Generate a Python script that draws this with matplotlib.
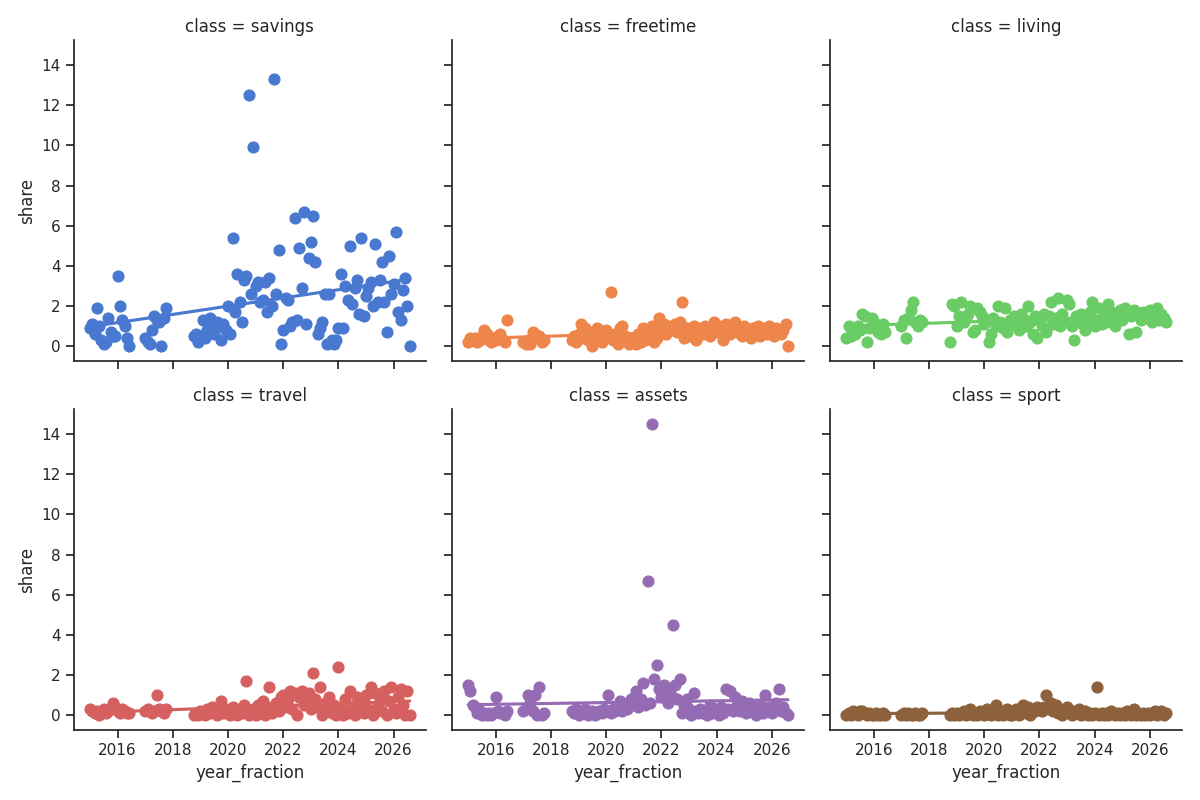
import matplotlib
matplotlib.use("Agg")
import matplotlib.pyplot as plt
import pandas as pd
import seaborn as sns

# monthly time axis with two gaps (mid 2016 - 2017, late 2017 - late 2018)
months_a = [2015 + m / 12 for m in range(18)]
months_b = [2017 + m / 12 for m in range(10)]
months_c = [2018.75 + m / 12 for m in range(95)]
year_fraction = months_a + months_b + months_c

classes = ["savings", "freetime", "living", "travel", "assets", "sport"]

savings = [
    0.9, 1.1, 0.6, 1.9, 1.0, 0.3, 0.1, 0.2, 1.4, 0.7, 0.5, 0.5, 3.5, 2.0, 1.3, 1.0, 0.4, 0.0,
    0.4, 0.2, 0.1, 0.8, 1.5, 1.3, 1.2, 0.0, 1.4, 1.9,
    0.5, 0.6, 0.2, 0.5, 1.3, 0.4, 0.8, 1.4, 0.9, 0.6, 1.2, 1.0, 0.3, 1.1, 0.8,
    2.0, 0.6, 5.4, 1.7, 3.6, 2.2, 1.2, 3.3, 3.5, 12.5, 2.6, 9.9,
    3.0, 3.2, 2.2, 2.3, 3.2, 1.7, 3.4, 2.0, 13.3, 2.6, 4.8, 0.1,
    0.8, 2.4, 2.3, 1.0, 1.2, 6.4, 1.3, 4.9, 2.9, 6.7, 1.1, 4.4,
    5.2, 6.5, 4.2, 0.6, 0.9, 1.2, 2.6, 0.1, 2.6, 0.3, 0.1, 0.3,
    0.9, 3.6, 0.9, 3.0, 2.3, 5.0, 2.1, 2.9, 3.3, 1.6, 5.4, 1.5,
    2.5, 2.9, 3.2, 2.0, 5.1, 2.2, 3.3, 4.2, 2.2, 0.7, 4.5, 2.6,
    3.1, 5.7, 1.7, 1.3, 2.8, 3.4, 2.0, 0.0,
]

freetime = [
    0.2, 0.4, 0.3, 0.4, 0.2, 0.3, 0.5, 0.8, 0.6, 0.3, 0.2, 0.4, 0.3, 0.5, 0.6, 0.3, 0.2, 1.3,
    0.2, 0.1, 0.3, 0.1, 0.7, 0.6, 0.4, 0.5, 0.2, 0.3,
    0.3, 0.5, 0.2, 0.6, 1.1, 0.4, 0.9, 0.3, 0.7, 0.0, 0.5, 0.9, 0.4, 0.2, 0.6,
    0.8, 0.5, 2.7, 0.3, 0.6, 0.1, 0.9, 1.0, 0.5, 0.3, 0.1, 0.2,
    0.4, 0.1, 0.6, 0.2, 0.9, 0.3, 0.8, 0.5, 1.0, 0.2, 0.4, 1.4,
    0.9, 1.1, 0.6, 1.0, 0.8, 1.0, 1.1, 0.7, 1.2, 2.2, 0.4, 0.9,
    0.5, 0.8, 1.0, 0.3, 0.7, 0.9, 0.6, 1.0, 0.8, 0.5, 0.9, 1.2,
    0.7, 1.0, 0.8, 0.3, 1.1, 0.9, 0.6, 1.0, 1.2, 0.7, 0.9, 0.5,
    1.0, 0.6, 0.8, 0.4, 0.9, 0.7, 1.0, 0.5, 0.8, 0.9, 0.6, 1.0,
    0.8, 0.5, 0.9, 0.7, 0.6, 0.8, 1.1, 0.0,
]

living = [
    0.4, 1.0, 0.5, 0.9, 0.6, 1.0, 0.8, 1.6, 1.5, 0.2, 0.9, 1.4, 1.2, 1.0, 0.7, 0.6, 1.1, 0.7,
    1.0, 1.3, 0.4, 1.4, 1.8, 2.2, 1.2, 1.0, 1.3, 1.2,
    0.2, 2.1, 2.0, 1.0, 1.5, 2.2, 1.2, 1.4, 1.6, 2.0, 0.7, 0.8, 1.9, 1.7, 1.5,
    1.1, 1.3, 0.2, 0.6, 1.4, 1.0, 2.0, 1.2, 0.9, 1.9, 0.7, 1.3,
    1.1, 1.5, 1.3, 0.8, 1.6, 1.4, 1.0, 2.0, 1.2, 0.6, 1.5, 0.4,
    1.3, 1.0, 1.6, 0.7, 1.5, 2.2, 1.1, 1.4, 2.4, 1.0, 1.6, 1.2,
    2.3, 2.1, 1.0, 0.3, 1.5, 1.2, 1.6, 1.1, 0.8, 1.4, 1.7, 2.2,
    1.0, 1.3, 1.9, 1.1, 1.5, 1.2, 2.1, 1.7, 1.4, 1.0, 1.6, 1.8,
    1.3, 1.9, 1.7, 0.6, 1.5, 1.8, 0.7, 1.6, 1.3, 1.7, 1.4, 1.5,
    1.8, 1.2, 1.6, 1.9, 1.3, 1.6, 1.4, 1.2,
]

travel = [
    0.3, 0.2, 0.1, 0.2, 0.0, 0.2, 0.3, 0.1, 0.2, 0.3, 0.6, 0.4, 0.2, 0.1, 0.3, 0.2, 0.1, 0.1,
    0.2, 0.3, 0.2, 0.1, 0.2, 1.0, 0.3, 0.2, 0.1, 0.3,
    0.0, 0.1, 0.0, 0.2, 0.1, 0.0, 0.3, 0.1, 0.4, 0.2, 0.0, 0.3, 0.7, 0.1, 0.3,
    0.1, 0.0, 0.4, 0.2, 0.0, 0.3, 0.1, 0.5, 1.7, 0.0, 0.2, 0.3,
    0.0, 0.5, 0.1, 0.7, 0.0, 0.4, 1.4, 0.1, 0.3, 0.6, 0.2, 0.9,
    1.0, 0.4, 0.8, 1.2, 0.3, 1.1, 0.0, 0.9, 1.2, 0.5, 0.7, 1.1,
    0.3, 2.1, 0.8, 0.4, 1.4, 0.0, 0.6, 0.2, 0.9, 0.1, 0.5, 0.0,
    2.4, 0.3, 0.0, 0.8, 0.1, 1.2, 0.4, 0.0, 0.9, 0.2, 0.6, 0.1,
    1.0, 0.3, 1.4, 0.0, 1.1, 0.5, 0.9, 0.2, 1.2, 0.0, 0.7, 1.4,
    0.3, 0.1, 0.9, 1.3, 0.5, 0.0, 1.2, 0.0,
]

assets = [
    1.5, 1.2, 0.5, 0.4, 0.1, 0.2, 0.0, 0.1, 0.0, 0.1, 0.0, 0.1, 0.9, 0.2, 0.1, 0.1, 0.0, 0.2,
    0.2, 0.3, 1.0, 0.6, 0.2, 1.0, 0.0, 1.4, 0.0, 0.1,
    0.2, 0.1, 0.3, 0.0, 0.2, 0.1, 0.3, 0.0, 0.1, 0.2, 0.0, 0.1, 0.2, 0.1, 0.3,
    0.2, 1.0, 0.1, 0.3, 0.2, 0.5, 0.7, 0.2, 0.4, 0.3, 0.6, 0.8,
    0.5, 1.2, 0.4, 0.8, 1.6, 0.5, 6.7, 0.6, 14.5, 1.8, 2.5, 1.3,
    0.9, 1.5, 1.2, 0.6, 1.0, 4.5, 1.5, 0.8, 1.8, 0.1, 0.5, 0.8,
    0.3, 0.0, 1.1, 0.2, 0.1, 0.3, 0.1, 0.2, 0.0, 0.5, 0.1, 0.3,
    0.2, 0.0, 0.4, 0.1, 1.3, 0.3, 1.2, 0.2, 0.9, 0.5, 0.2, 0.7,
    0.3, 0.1, 0.6, 0.2, 0.4, 0.0, 0.3, 0.5, 0.1, 1.0, 0.2, 0.4,
    0.1, 0.3, 0.6, 1.3, 0.2, 0.4, 0.1, 0.0,
]

sport = [
    0.0, 0.1, 0.0, 0.2, 0.1, 0.0, 0.2, 0.2, 0.1, 0.0, 0.1, 0.0, 0.0, 0.1, 0.0, 0.0, 0.1, 0.0,
    0.0, 0.1, 0.0, 0.1, 0.0, 0.0, 0.1, 0.0, 0.0, 0.1,
    0.0, 0.1, 0.0, 0.1, 0.0, 0.1, 0.2, 0.0, 0.1, 0.3, 0.0, 0.1, 0.0, 0.2, 0.1,
    0.0, 0.3, 0.1, 0.0, 0.2, 0.5, 0.0, 0.2, 0.0, 0.1, 0.3, 0.0,
    0.0, 0.1, 0.3, 0.0, 0.2, 0.5, 0.1, 0.4, 0.0, 0.3, 0.2, 0.4,
    0.3, 0.2, 0.4, 1.0, 0.3, 0.6, 0.2, 0.5, 0.1, 0.3, 0.0, 0.2,
    0.4, 0.1, 0.0, 0.2, 0.1, 0.3, 0.0, 0.1, 0.2, 0.0, 0.1, 0.0,
    0.1, 1.4, 0.0, 0.1, 0.0, 0.1, 0.0, 0.2, 0.1, 0.0, 0.1, 0.0,
    0.1, 0.0, 0.2, 0.1, 0.0, 0.3, 0.0, 0.1, 0.0, 0.1, 0.0, 0.1,
    0.0, 0.1, 0.2, 0.0, 0.1, 0.2, 0.0, 0.1,
]

# armar tabla larga para lmplot
wide = pd.DataFrame({
    "year_fraction": year_fraction,
    "savings": savings,
    "freetime": freetime,
    "living": living,
    "travel": travel,
    "assets": assets,
    "sport": sport,
})
df = wide.melt(id_vars="year_fraction", value_vars=classes,
               var_name="class", value_name="share")

sns.set_theme(style="ticks")

g = sns.lmplot(
    data=df, x="year_fraction", y="share",
    col="class", hue="class", col_wrap=3, col_order=classes, hue_order=classes,
    ci=None, height=4, aspect=1, palette="muted",
    scatter_kws={"s": 60, "alpha": 1},
)

# guardar con tamaño fijo (sin recorte tight)
g.figure.savefig("out.png", dpi=100)
